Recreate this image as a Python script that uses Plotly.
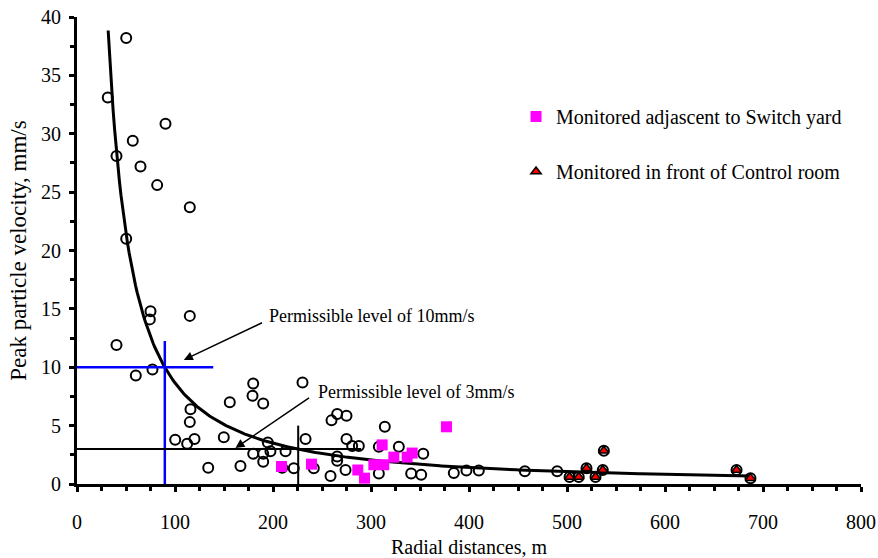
import numpy as np
import plotly.graph_objects as go

# All monitored blasts: radial distance (m) and peak particle velocity (mm/s)
all_dist = [50.2, 31.4, 90.3, 56.9, 40.3, 64.8, 81.8, 115.1, 50.2, 75.0,
            74.3, 115.1, 40.3, 77.0, 60.0, 115.8, 115.1, 100.2, 119.9, 112.4,
            149.8, 133.9, 166.8, 155.9, 179.8, 179.1, 190.0, 179.8, 190.0, 190.0,
            194.7, 197.4, 212.8, 209.4, 221.2, 230.1, 233.2, 241.6, 258.7, 274.0,
            265.5, 265.5, 265.5, 275.0, 259.7, 275.0, 280.8, 287.6, 314.1, 308.0,
            308.0, 328.4, 353.3, 341.0, 351.2, 384.5, 397.4, 410.0, 457.0, 490.0,
            537.6, 519.9, 536.5, 502.6, 512.0, 529.1, 673.0, 687.2]
all_ppv = [38.2, 33.1, 30.85, 29.4, 28.1, 27.2, 25.6, 23.7, 21.0, 14.8,
           14.1, 14.4, 11.9, 9.8, 9.3, 6.4, 5.3, 3.8, 3.85, 3.45,
           4.0, 1.4, 1.55, 7.0, 8.6, 7.55, 6.9, 2.6, 2.6, 1.9,
           3.55, 2.8, 2.8, 1.4, 1.35, 8.7, 3.85, 1.35, 0.68, 1.2,
           2.35, 2.0, 6.0, 5.85, 5.45, 3.85, 3.25, 3.25, 4.9, 3.2,
           0.9, 3.2, 2.6, 0.9, 0.8, 0.95, 1.15, 1.15, 1.1, 1.1,
           2.85, 1.35, 1.2, 0.6, 0.6, 0.6, 1.2, 0.5]

# Readings taken adjacent to the switch yard
switch_dist = [208.7, 239.3, 286.5, 293.4, 302.9, 311.4, 313.0, 323.3, 336.9, 342.0, 377.0]
switch_ppv = [1.5, 1.7, 1.2, 0.5, 1.65, 3.35, 1.65, 2.3, 2.3, 2.65, 4.9]

# Readings taken in front of the control room
control_dist = [537.6, 519.9, 536.5, 502.6, 512.0, 529.1, 673.0, 687.2]
control_ppv = [2.85, 1.35, 1.2, 0.6, 0.6, 0.6, 1.2, 0.5]

# Power-law attenuation fit: PPV = K * D^(-B)
FIT_K = 3610.0
FIT_B = 1.31
FIT_RANGE = (31.8, 687.0)

# Permissible limits (mm/s) and the distances at which the fit reaches them
LIMIT_HIGH = 10
LIMIT_HIGH_DIST = 89.6
LIMIT_LOW = 3
LIMIT_LOW_DIST = 225.7

FONT = "Liberation Serif, Times New Roman, serif"

fit_d = np.linspace(FIT_RANGE[0], FIT_RANGE[1], 400)
fit_v = FIT_K * fit_d ** (-FIT_B)

fig = go.Figure()

fig.add_trace(go.Scatter(
    x=all_dist, y=all_ppv, mode="markers", showlegend=False,
    marker=dict(symbol="circle-open", size=10, color="black", line=dict(width=2, color="black")),
))

fig.add_trace(go.Scatter(
    x=fit_d, y=fit_v, mode="lines", showlegend=False,
    line=dict(color="black", width=3),
))

# 10 mm/s limit cross (blue)
fig.add_trace(go.Scatter(x=[0, 139], y=[LIMIT_HIGH, LIMIT_HIGH], mode="lines", showlegend=False,
                         line=dict(color="#0000FF", width=2.5)))
fig.add_trace(go.Scatter(x=[LIMIT_HIGH_DIST, LIMIT_HIGH_DIST], y=[0, 12.25], mode="lines", showlegend=False,
                         line=dict(color="#0000FF", width=2.5)))
# 3 mm/s limit cross (black)
fig.add_trace(go.Scatter(x=[0, 290], y=[LIMIT_LOW, LIMIT_LOW], mode="lines", showlegend=False,
                         line=dict(color="black", width=2)))
fig.add_trace(go.Scatter(x=[LIMIT_LOW_DIST, LIMIT_LOW_DIST], y=[0, 5.0], mode="lines", showlegend=False,
                         line=dict(color="black", width=2)))

fig.add_trace(go.Scatter(
    x=switch_dist, y=switch_ppv, mode="markers", name="Monitored adjascent to Switch yard",
    legend="legend",
    marker=dict(symbol="square", size=11, color="#FF00FF", line=dict(width=0)),
))

fig.add_trace(go.Scatter(
    x=control_dist, y=control_ppv, mode="markers", name="Monitored in front of Control room",
    legend="legend2",
    marker=dict(symbol="triangle-up", size=9, color="#FF0000", line=dict(width=1.5, color="black")),
))

annotations = [
    dict(x=193.9, y=14.35, xref="x", yref="y", text="Permissible level of 10mm/s",
         showarrow=False, xanchor="left", yanchor="middle", font=dict(family=FONT, size=18, color="black")),
    dict(x=109, y=10.63, xref="x", yref="y", ax=190.3, ay=13.87, axref="x", ayref="y",
         text="", showarrow=True, arrowhead=2, arrowsize=1.2, arrowwidth=1.5, arrowcolor="black"),
    dict(x=243.4, y=7.9, xref="x", yref="y", text="Permissible level of 3mm/s",
         showarrow=False, xanchor="left", yanchor="middle", font=dict(family=FONT, size=18, color="black")),
    dict(x=161.7, y=3.08, xref="x", yref="y", ax=238.3, ay=7.46, axref="x", ayref="y",
         text="", showarrow=True, arrowhead=2, arrowsize=1.2, arrowwidth=1.5, arrowcolor="black"),
]

tick_font = dict(family=FONT, size=20, color="black")

fig.update_layout(
    width=878, height=558,
    margin=dict(l=76.5, r=17.3, t=17.3, b=73.7),
    paper_bgcolor="white", plot_bgcolor="white",
    font=dict(family=FONT, size=19, color="black"),
    annotations=annotations,
    xaxis=dict(
        range=[0, 800], tick0=0, dtick=100, automargin=False,
        showline=True, linewidth=3, linecolor="black",
        ticks="outside", ticklen=5, tickwidth=3, tickcolor="black",
        minor=dict(dtick=25, ticks="outside", ticklen=4, tickwidth=2.5, tickcolor="black"),
        showgrid=False, zeroline=False, tickfont=tick_font, ticklabelstandoff=13,
        title=dict(text="Radial distances, m", font=dict(family=FONT, size=20), standoff=25),
    ),
    yaxis=dict(
        range=[0, 40], tick0=0, dtick=5, automargin=False,
        showline=True, linewidth=3, linecolor="black",
        ticks="outside", ticklen=5, tickwidth=3, tickcolor="black",
        minor=dict(dtick=2.5, ticks="outside", ticklen=4, tickwidth=2.5, tickcolor="black"),
        showgrid=False, zeroline=False, tickfont=tick_font, ticklabelstandoff=4,
        title=dict(text="Peak particle velocity, mm/s", font=dict(family=FONT, size=23), standoff=8),
    ),
    # companion axes carry the inward half of each tick mark
    xaxis2=dict(
        range=[0, 800], overlaying="x", anchor="y", side="bottom", tick0=0, dtick=100,
        automargin=False,
        ticks="inside", ticklen=5, tickwidth=3, tickcolor="black",
        minor=dict(dtick=25, ticks="inside", ticklen=4, tickwidth=2.5, tickcolor="black"),
        showticklabels=False, showline=False, showgrid=False, zeroline=False,
    ),
    yaxis2=dict(
        range=[0, 40], overlaying="y", anchor="x", side="left", tick0=0, dtick=5,
        automargin=False,
        ticks="inside", ticklen=5, tickwidth=3, tickcolor="black",
        minor=dict(dtick=2.5, ticks="inside", ticklen=4, tickwidth=2.5, tickcolor="black"),
        showticklabels=False, showline=False, showgrid=False, zeroline=False,
    ),
    legend=dict(x=0.56, y=0.787, xanchor="left", yanchor="middle",
                bgcolor="rgba(0,0,0,0)", font=dict(family=FONT, size=20)),
    legend2=dict(x=0.56, y=0.669, xanchor="left", yanchor="middle",
                 bgcolor="rgba(0,0,0,0)", font=dict(family=FONT, size=20)),
)

fig.write_html("out.html")
